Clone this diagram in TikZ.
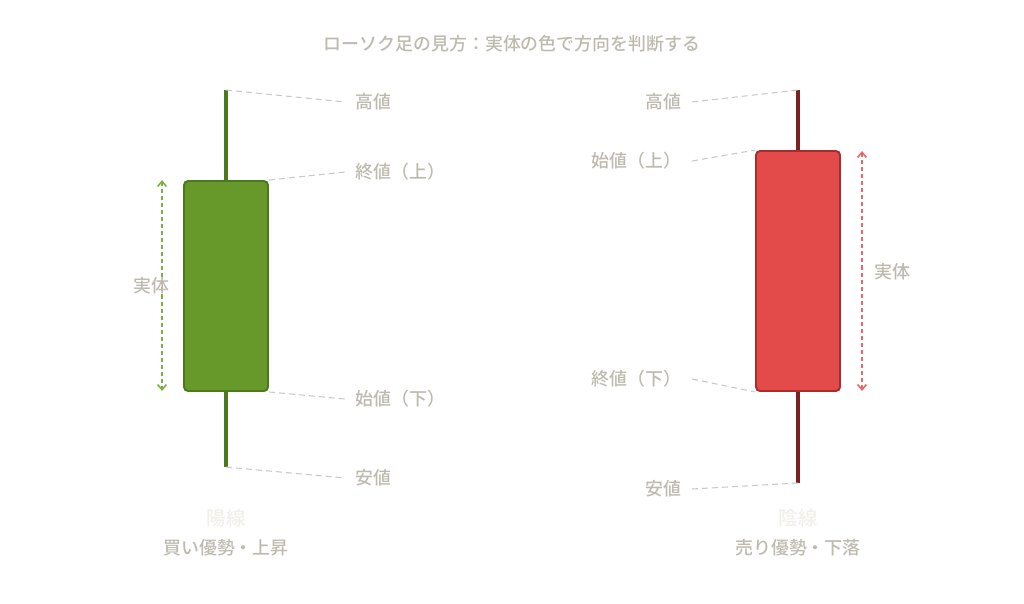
\documentclass[tikz,border=0pt]{standalone}
\usepackage{fontspec}
\newfontfamily\jpfont{Noto Sans CJK JP}[UprightFont=* Medium]
\usepackage{xcolor}
\usepackage{tikz}
\usetikzlibrary{positioning,arrows.meta}

\definecolor{txtgray}{HTML}{BDBAAF}
\definecolor{leadgray}{HTML}{C8C8C4}
\definecolor{upfill}{HTML}{66982A}
\definecolor{upedge}{HTML}{4B7A1E}
\definecolor{uparrow}{HTML}{7CB045}
\definecolor{dnfill}{HTML}{E24B4A}
\definecolor{dnedge}{HTML}{A52D2D}
\definecolor{dnwick}{HTML}{7D2020}
\definecolor{dnarrow}{HTML}{E8676A}
\definecolor{faint}{HTML}{F1EFE9}

\begin{document}
\begin{tikzpicture}[
  x=0.02cm, y=-0.02cm,
  font=\jpfont\fontsize{10.2}{12}\selectfont,
  body/.style={draw, line width=1.1pt, rounded corners=2.3pt, minimum width=1.68cm, inner sep=0pt},
  wick/.style={line width=1.9pt},
  lbl/.style={text=txtgray, inner xsep=6pt, inner ysep=0pt},
  lead/.style={draw=leadgray, line width=0.6pt, dash pattern=on 3.4pt off 2.3pt},
  span/.style={line width=0.9pt, dash pattern=on 2.3pt off 1.7pt, {Straight Barb[length=3pt,width=5pt]}-{Straight Barb[length=3pt,width=5pt]}}
]
\useasboundingbox (0,0) rectangle (1024,603);

\node[text=txtgray] (title) at (512,44) {ローソク足の見方：実体の色で方向を判断する};

% bullish candle
\coordinate (ghi) at (226,90);
\coordinate (glo) at (226,467);
\draw[wick, upedge] (ghi) -- (glo);
\node[body, draw=upedge, fill=upfill, minimum height=4.2cm] (gbody) at (226,286) {};

\node[lbl, anchor=west] (ghigh) at (345,102) {高値};
\node[lbl, anchor=west] (gclose) at (345,172) {終値（上）};
\node[lbl, anchor=west] (gopen) at (345,399) {始値（下）};
\node[lbl, anchor=west] (glow) at (345,478) {安値};
\draw[lead] (ghi) -- (ghigh.west);
\draw[lead] (gbody.north east) -- (gclose.west);
\draw[lead] (gbody.south east) -- (gopen.west);
\draw[lead] (glo) -- (glow.west);

\coordinate (gtop) at (162,180);
\coordinate (gbot) at (162,391);
\draw[span, uparrow] (gtop) -- (gbot);
\node[text=txtgray] (gsize) at (151,286) {実体};

\node[text=faint, font=\jpfont\fontsize{11}{13}\selectfont] (gname) at (226,518) {陽線};
\node[text=txtgray] (gnote) at (226,548) {買い優勢・上昇};

% bearish candle
\coordinate (rhi) at (798,90);
\coordinate (rlo) at (798,483);
\draw[wick, dnwick] (rhi) -- (rlo);
\node[body, draw=dnedge, fill=dnfill, minimum height=4.8cm] (rbody) at (798,271) {};

\node[lbl, anchor=east] (rhigh) at (692,102) {高値};
\node[lbl, anchor=east] (ropen) at (692,161) {始値（上）};
\node[lbl, anchor=east] (rclose) at (692,379) {終値（下）};
\node[lbl, anchor=east] (rlow) at (692,489) {安値};
\draw[lead] (rhigh.east) -- (rhi);
\draw[lead] (ropen.east) -- (rbody.north west);
\draw[lead] (rclose.east) -- (rbody.south west);
\draw[lead] (rlow.east) -- (rlo);

\coordinate (rtop) at (862,151);
\coordinate (rbot) at (862,391);
\draw[span, dnarrow] (rtop) -- (rbot);
\node[text=txtgray] (rsize) at (892,272) {実体};

\node[text=faint, font=\jpfont\fontsize{11}{13}\selectfont] (rname) at (798,518) {陰線};
\node[text=txtgray] (rnote) at (798,548) {売り優勢・下落};
\end{tikzpicture}
\end{document}
